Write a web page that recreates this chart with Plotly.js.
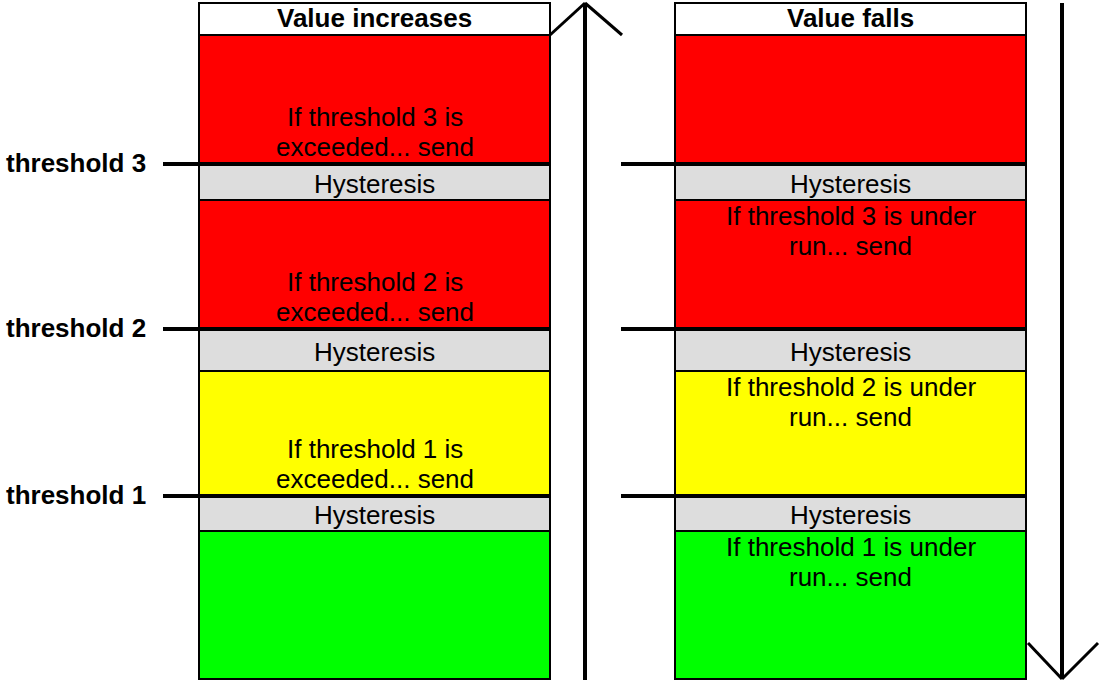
<!DOCTYPE html>
<html>
<head>
<meta charset="utf-8">
<script src="https://cdn.plot.ly/plotly-3.0.1.min.js"></script>
<style>html,body{margin:0;padding:0;background:#fff;}#chart{width:1100px;height:681px;}</style>
</head>
<body>
<div id="chart"></div>
<script>
// ---- data (value scale: larger = higher on the page) ----
var columns = ['Value increases', 'Value falls'];
var columnLeft = [199, 675];
var columnRight = [550, 1026];
var thresholdNames = ['threshold 1', 'threshold 2', 'threshold 3'];
var thresholdLevels = [184, 351, 516];
var hysteresisLower = [150, 310, 481];
var zoneLower = [2, 184, 351, 516];
var zoneUpper = [150, 310, 481, 646];
var zoneColors = ['#00ff00', '#ffff00', '#ff0000', '#ff0000'];
var headerUpper = 678;
var risingTexts = [[], ['If threshold 1 is', 'exceeded... send'], ['If threshold 2 is', 'exceeded... send'], ['If threshold 3 is', 'exceeded... send']];
var fallingTexts = [['If threshold 1 is under', 'run... send'], ['If threshold 2 is under', 'run... send'], ['If threshold 3 is under', 'run... send'], []];
var lineStart = [163, 621];
var arrowX = [585, 1062];

var shapes = [];
var annotations = [];
var FONT = 'Arial, "Liberation Sans", sans-serif';
var FS = 26;
var LINE_GAP = 30;

function rect(x0, x1, y0, y1, fill) {
  shapes.push({type: 'rect', xref: 'x', yref: 'y', x0: x0, x1: x1, y0: y0, y1: y1,
    fillcolor: fill, line: {color: '#000', width: 2}, layer: 'below'});
}
function line(x0, y0, x1, y1, w) {
  shapes.push({type: 'line', xref: 'x', yref: 'y', x0: x0, y0: y0, x1: x1, y1: y1,
    line: {color: '#000', width: w}});
}
function text(x, y, t, opts) {
  annotations.push(Object.assign({x: x, y: y, xref: 'x', yref: 'y', text: t, showarrow: false,
    font: {family: FONT, size: FS, color: '#000'}, xanchor: 'center', yanchor: 'middle'}, opts || {}));
}

for (var c = 0; c < columns.length; c++) {
  var L = columnLeft[c], R = columnRight[c], mid = (L + R) / 2;
  for (var z = 0; z < zoneLower.length; z++) {
    rect(L, R, zoneLower[z], zoneUpper[z], zoneColors[z]);
    var lines = c === 0 ? risingTexts[z] : fallingTexts[z];
    for (var i = 0; i < lines.length; i++) {
      if (c === 0) {
        // bottom-aligned, just above the threshold line
        var yb = zoneLower[z] + 18 + (lines.length - 1 - i) * LINE_GAP;
        text(mid, yb, lines[i]);
      } else {
        // top-aligned, just below the hysteresis band
        var yt = zoneUpper[z] - 16 - i * LINE_GAP;
        text(mid, yt, lines[i]);
      }
    }
  }
  for (var h = 0; h < thresholdLevels.length; h++) {
    rect(L, R, hysteresisLower[h], thresholdLevels[h], '#dddddd');
    text(mid, (hysteresisLower[h] + thresholdLevels[h]) / 2 - 1, 'Hysteresis');
  }
  rect(L, R, zoneUpper[zoneUpper.length - 1], headerUpper, '#ffffff');
  text(mid, (zoneUpper[zoneUpper.length - 1] + headerUpper) / 2 + 1, '<b>' + columns[c] + '</b>');
  for (var k = 0; k < thresholdLevels.length; k++) {
    line(lineStart[c], thresholdLevels[k] + 1, R, thresholdLevels[k] + 1, 4);
  }
}
for (var k = 0; k < thresholdNames.length; k++) {
  text(4, thresholdLevels[k] + 2, '<b>' + thresholdNames[k] + '</b>', {xanchor: 'left'});
}
line(arrowX[0], 1, arrowX[0], headerUpper, 4);
line(arrowX[0], headerUpper, arrowX[0] - 35, headerUpper - 32, 3);
line(arrowX[0], headerUpper, arrowX[0] + 37, headerUpper - 32, 3);
line(arrowX[1], headerUpper, arrowX[1], 2, 4);
line(arrowX[1], 2, arrowX[1] - 34, 38, 3);
line(arrowX[1], 2, arrowX[1] + 36, 38, 3);

var layout = {
  width: 1100, height: 681,
  margin: {l: 0, r: 0, t: 0, b: 0},
  paper_bgcolor: '#fff', plot_bgcolor: '#fff',
  showlegend: false,
  xaxis: {range: [0, 1100], visible: false, fixedrange: true},
  yaxis: {range: [0, 681], visible: false, fixedrange: true},
  shapes: shapes,
  annotations: annotations
};
Plotly.newPlot('chart', [{x: [], y: [], type: 'scatter', hoverinfo: 'skip'}], layout, {staticPlot: true, displayModeBar: false});
</script>
</body>
</html>
